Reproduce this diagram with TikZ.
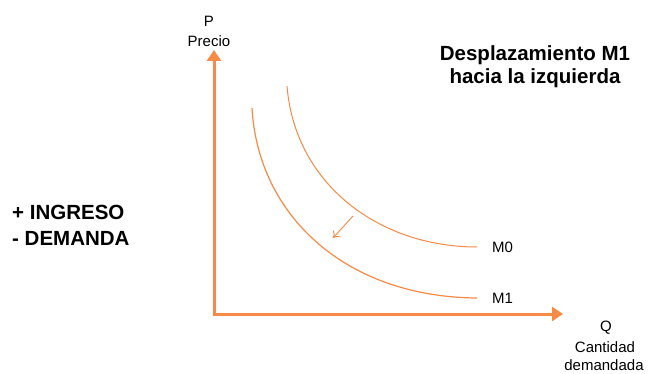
\documentclass[tikz,border=0pt]{standalone}
\usepackage{fontspec}
\setmainfont{Liberation Sans}
\usetikzlibrary{arrows.meta}
\definecolor{naranja}{RGB}{246,138,70}
\tikzset{
  eje/.style={naranja,line width=3pt,-{Triangle[length=11pt,width=14pt]}},
  curva/.style={naranja,line width=1.2pt},
  etiqueta/.style={font=\fontsize{15}{17}\selectfont,inner sep=0pt},
  titulo/.style={font=\fontsize{20.5}{23}\selectfont\bfseries,inner sep=0pt,align=center}
}
\begin{document}
\begin{tikzpicture}[x=1pt,y=-1pt]
			\useasboundingbox (0,0) rectangle (648,374);
			\coordinate (O) at (214,314);
			\coordinate (Ptip) at (214,50);
			\coordinate (Qtip) at (563,314);
			\draw[eje] (O) -- (Ptip);
			\draw[eje,shorten <=-1.5pt] (O) -- (Qtip);
			
			\node[etiqueta] (P) at (209,21) {P};
			\node[etiqueta] (precio) at (209,41) {Precio};
			\node[etiqueta] (Q) at (606,328) {Q};
			\node[etiqueta] (cantidad) at (605,347) {Cantidad};
			\node[etiqueta] (demandada) at (604,365) {demandada};
			
			\node[titulo] (titulo) at (535,67) {Desplazamiento M1\\hacia la izquierda};
			\node[titulo,anchor=west] (ingreso) at (12,212) {+ INGRESO};
			\node[titulo,anchor=west] (demanda) at (12,238) {- DEMANDA};
			
			% curvas de demanda
			\coordinate (M0a) at (287,86);
			\coordinate (M0b) at (477,247);
			\coordinate (M1a) at (252,108);
			\coordinate (M1b) at (477,298);
			\draw[curva,line width=1pt] (M0a) .. controls (295,185) and (380,247) .. (M0b);
			\draw[curva] (M1a) .. controls (258,215) and (345,297) .. (M1b);
			\node[etiqueta,anchor=west] (M0) at (492,247) {M0};
			\node[etiqueta,anchor=west] (M1) at (492,298) {M1};
			
			% desplazamiento
			\coordinate (d0) at (353,216);
			\coordinate (d1) at (333,238);
			\draw[naranja,line width=0.9pt,-{To[length=6pt,width=10pt]}] (d0) -- (d1);
\end{tikzpicture}
\end{document}
